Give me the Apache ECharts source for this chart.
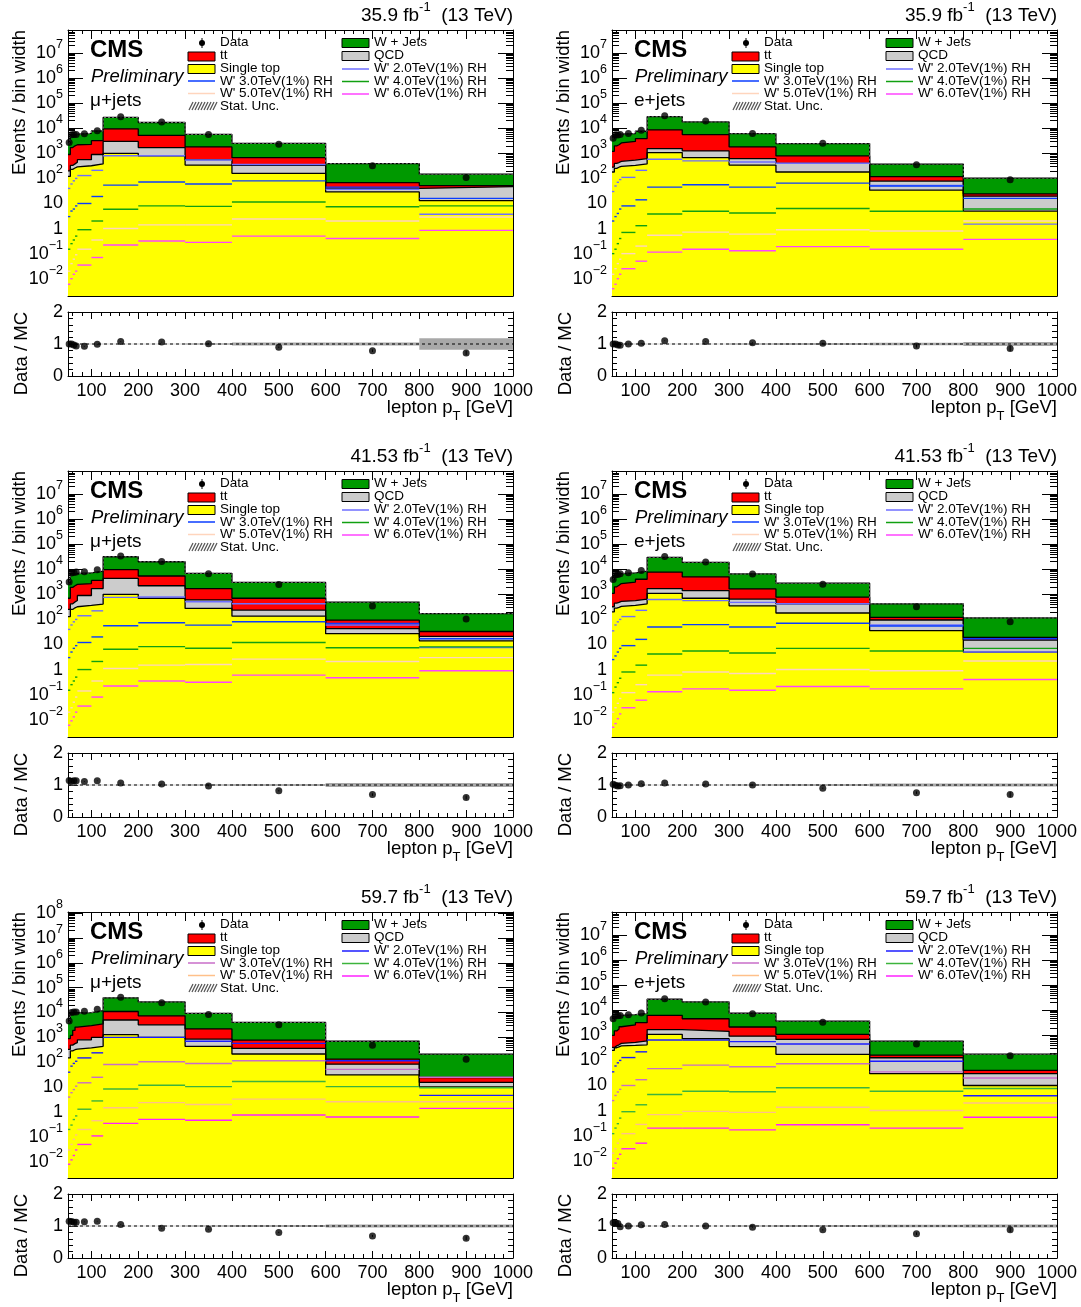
<!DOCTYPE html>
<html><head><meta charset="utf-8">
<script src="https://cdn.jsdelivr.net/npm/echarts@6/dist/echarts.min.js"></script>
<style>html,body{margin:0;padding:0;background:#fff}#c{width:1081px;height:1307px}</style>
</head><body><div id="c"></div>
<script>
// ---------------- DATA ----------------
const BIN_EDGES = [50, 55, 60, 65, 70, 100, 125, 200, 300, 400, 600, 800, 1000];
const BIN_CENTERS = [52.5, 57.5, 62.5, 67.5, 85, 112.5, 162.5, 250, 350, 500, 700, 900];
const X_TICK_LABELS = [100, 200, 300, 400, 500, 600, 700, 800, 900, 1000];
const RATIO_TICKS = [0, 1, 2];

// 2016 mu+jets
const mu16_stop  = [120, 230, 260, 290, 320, 380, 1000, 800, 340, 160, 29, 13];
const mu16_qcd   = [80, 100, 120, 150, 240, 520, 2000, 900, 220, 170, 11, 34];
const mu16_tt    = [700, 1370, 1620, 1760, 1740, 2300, 6500, 3500, 1240, 340, 28, 5];
const mu16_wjets = [1600, 3500, 3500, 3600, 4000, 4600, 17500, 11800, 3900, 1830, 322, 96];
const mu16_data  = [2700, 5500, 5700, 5600, 6000, 7900, 29000, 18000, 5700, 2300, 320, 110];
const mu16_w2 = [40, 60, 80, 100, 130, 210, 800, 800, 540, 360, 37, 3.7];
const mu16_w3 = [3, 5, 6, 8, 10, 19, 54, 72, 60, 80, 45, 16];
const mu16_w4 = [0.15, 0.25, 0.35, 0.5, 0.9, 2.0, 5.9, 8, 7.7, 11.5, 7.4, 8];
const mu16_w5 = [0.02, 0.04, 0.06, 0.09, 0.15, 0.35, 1.0, 1.4, 1.4, 2.4, 2.0, 2.9];
const mu16_w6 = [0.006, 0.01, 0.015, 0.02, 0.035, 0.07, 0.22, 0.32, 0.28, 0.5, 0.4, 0.85];
const mu16_ratio = [1.0, 1.0, 0.97, 0.94, 0.93, 0.99, 1.08, 1.06, 1.01, 0.9, 0.79, 0.72];
const mu16_rerr  = [0.01, 0.01, 0.01, 0.01, 0.01, 0.01, 0.01, 0.01, 0.01, 0.02, 0.04, 0.07];
const mu16_band  = [0.01, 0.01, 0.01, 0.01, 0.01, 0.01, 0.01, 0.01, 0.02, 0.05, 0.05, 0.18];

// 2016 e+jets
const e16_stop  = [180, 250, 280, 300, 330, 380, 1070, 680, 340, 180, 34, 5];
const e16_qcd   = [100, 150, 150, 180, 210, 240, 480, 570, 280, 220, 44, 14.5];
const e16_tt    = [920, 1600, 1770, 2120, 2460, 3280, 7150, 4350, 1180, 390, 39, 4.5];
const e16_wjets = [2800, 3500, 3400, 3200, 3200, 3700, 20300, 12400, 4300, 1660, 258, 79];
const e16_data  = [4000, 5500, 5400, 5600, 6200, 8300, 31600, 19500, 6200, 2500, 350, 89];
const e16_w2 = [30, 50, 70, 90, 110, 210, 580, 500, 450, 400, 52, 1.5];
const e16_w3 = [2, 3, 4, 6, 8, 14, 45, 56, 45, 65, 50, 16];
const e16_w4 = [0.1, 0.15, 0.25, 0.4, 0.7, 1.3, 3.8, 4.9, 4.2, 6.3, 4.9, 6];
const e16_w5 = [0.015, 0.025, 0.04, 0.06, 0.1, 0.2, 0.54, 0.72, 0.6, 0.9, 0.8, 2];
const e16_w6 = [0.004, 0.006, 0.01, 0.015, 0.025, 0.05, 0.115, 0.15, 0.13, 0.19, 0.15, 0.37];
const e16_ratio = [1.0, 1.0, 0.97, 0.96, 1.0, 1.02, 1.1, 1.08, 1.04, 1.02, 0.94, 0.86];
const e16_rerr  = [0.01, 0.01, 0.01, 0.01, 0.01, 0.01, 0.01, 0.01, 0.01, 0.02, 0.05, 0.08];
const e16_band  = [0.01, 0.01, 0.01, 0.01, 0.01, 0.01, 0.01, 0.01, 0.02, 0.03, 0.04, 0.06];

// 2017 mu+jets
const mu17_stop  = [130, 250, 290, 320, 360, 410, 1000, 700, 275, 135, 27, 14];
const mu17_qcd   = [120, 170, 210, 250, 540, 1290, 3300, 1500, 325, 100, 16, 7];
const mu17_tt    = [450, 1480, 1700, 1930, 1800, 1900, 5400, 3200, 1100, 465, 50, 12];
const mu17_wjets = [2100, 4500, 4400, 4300, 4500, 4900, 21900, 14600, 5200, 2300, 397, 137];
const mu17_data  = [3100, 7100, 7400, 7700, 8000, 9600, 33500, 20600, 6700, 2450, 345, 104];
const mu17_w2 = [40, 60, 80, 100, 140, 220, 760, 780, 510, 420, 60, 7.6];
const mu17_w3 = [3, 5, 7, 9, 12, 20, 56, 74, 59, 81, 69, 17];
const mu17_w4 = [0.15, 0.25, 0.35, 0.5, 1.0, 2.1, 6.5, 8.2, 7.1, 12, 7.4, 8];
const mu17_w5 = [0.02, 0.03, 0.05, 0.08, 0.14, 0.35, 1.1, 1.5, 1.6, 2.6, 2.1, 3];
const mu17_w6 = [0.006, 0.009, 0.013, 0.02, 0.035, 0.08, 0.22, 0.35, 0.31, 0.6, 0.47, 0.9];
const mu17_ratio = [1.14, 1.11, 1.13, 1.13, 1.11, 1.13, 1.06, 1.03, 0.97, 0.82, 0.7, 0.61];
const mu17_rerr  = [0.01, 0.01, 0.01, 0.01, 0.01, 0.01, 0.01, 0.01, 0.01, 0.02, 0.04, 0.06];
const mu17_band  = [0.01, 0.01, 0.01, 0.01, 0.01, 0.01, 0.01, 0.01, 0.02, 0.03, 0.06, 0.06];

// 2017 e+jets
const e17_stop  = [200, 280, 300, 330, 360, 420, 1100, 700, 350, 180, 36, 5];
const e17_qcd   = [120, 170, 180, 190, 200, 230, 600, 700, 300, 240, 59, 10];
const e17_tt    = [780, 1550, 1820, 2180, 2540, 3350, 6000, 3600, 1000, 350, 25, 4];
const e17_wjets = [2700, 4200, 4100, 4000, 4100, 4500, 22300, 14000, 4850, 2030, 300, 96];
const e17_data  = [3900, 6100, 6200, 6600, 7200, 8900, 32000, 19500, 6500, 2500, 320, 80];
const e17_w2 = [35, 60, 80, 100, 130, 230, 620, 560, 480, 420, 60, 5];
const e17_w3 = [2.5, 3.5, 5, 7, 9, 16, 50, 62, 50, 70, 55, 17];
const e17_w4 = [0.12, 0.2, 0.3, 0.45, 0.8, 1.5, 4.2, 5.5, 4.6, 7, 5.5, 7];
const e17_w5 = [0.02, 0.03, 0.045, 0.07, 0.12, 0.25, 0.6, 0.8, 0.7, 1.0, 0.9, 2.2];
const e17_w6 = [0.005, 0.007, 0.011, 0.017, 0.03, 0.06, 0.13, 0.17, 0.15, 0.21, 0.17, 0.4];
const e17_ratio = [1.02, 0.99, 0.97, 0.98, 1.0, 1.04, 1.06, 1.03, 1.0, 0.9, 0.76, 0.7];
const e17_rerr  = [0.01, 0.01, 0.01, 0.01, 0.01, 0.01, 0.01, 0.01, 0.01, 0.02, 0.04, 0.08];
const e17_band  = [0.01, 0.01, 0.01, 0.01, 0.01, 0.01, 0.01, 0.01, 0.02, 0.03, 0.05, 0.05];

// 2018 mu+jets
const mu18_stop  = [150, 290, 320, 340, 380, 440, 1300, 1000, 440, 215, 31, 10.3];
const mu18_qcd   = [180, 200, 240, 280, 420, 560, 3700, 2200, 420, 145, 53, 5.2];
const mu18_tt    = [570, 710, 1340, 1980, 2200, 2500, 6000, 4200, 1340, 420, 51, 9];
const mu18_wjets = [3100, 7600, 7300, 6900, 7000, 8500, 28000, 19200, 7100, 3220, 565, 190];
const mu18_data  = [4600, 10000, 10400, 10600, 11300, 13700, 41000, 24700, 8400, 3200, 480, 133];
const mu18_w2 = [40, 70, 90, 110, 150, 240, 1000, 1000, 700, 575, 115, 4.7];
const mu18_w3 = [4, 6, 8, 11, 15, 25, 81, 105, 89, 115, 52, 25];
const mu18_w4 = [0.2, 0.3, 0.5, 0.7, 1.3, 2.8, 8.5, 12, 10.5, 17, 10.5, 9.5];
const mu18_w5 = [0.03, 0.05, 0.08, 0.12, 0.2, 0.45, 1.5, 2.4, 2.0, 3.3, 2.6, 2.6];
const mu18_w6 = [0.008, 0.012, 0.018, 0.03, 0.05, 0.11, 0.35, 0.51, 0.47, 0.76, 0.63, 1.4];
const mu18_ratio = [1.15, 1.14, 1.12, 1.12, 1.13, 1.15, 1.05, 0.93, 0.9, 0.8, 0.69, 0.62];
const mu18_rerr  = [0.01, 0.01, 0.01, 0.01, 0.01, 0.01, 0.01, 0.01, 0.01, 0.02, 0.03, 0.06];
const mu18_band  = [0.01, 0.01, 0.01, 0.01, 0.01, 0.01, 0.01, 0.01, 0.02, 0.03, 0.05, 0.05];

// 2018 e+jets
const e18_stop  = [250, 320, 350, 380, 400, 420, 1100, 740, 355, 175, 30, 10];
const e18_qcd   = [80, 60, 70, 100, 120, 180, 600, 710, 575, 515, 98, 19.5];
const e18_tt    = [670, 1120, 1380, 1720, 2080, 2600, 4600, 3150, 1220, 410, 34, 10.5];
const e18_wjets = [3200, 4100, 4000, 4100, 4100, 4300, 21200, 16900, 5450, 2600, 428, 138];
const e18_data  = [4600, 6200, 6100, 6200, 6700, 7800, 29000, 21500, 7300, 3300, 450, 155];
const e18_w2 = [35, 60, 80, 100, 130, 220, 650, 650, 560, 450, 93, 3.9];
const e18_w3 = [2.5, 4, 5.5, 7, 10, 17, 47, 65, 56, 74, 35, 20];
const e18_w4 = [0.12, 0.2, 0.3, 0.5, 0.9, 1.7, 4.4, 5.9, 5.6, 8.1, 5.9, 7.6];
const e18_w5 = [0.02, 0.03, 0.05, 0.07, 0.12, 0.28, 0.69, 0.93, 0.85, 1.35, 1.0, 2.0];
const e18_w6 = [0.005, 0.008, 0.012, 0.018, 0.03, 0.05, 0.2, 0.2, 0.17, 0.27, 0.2, 0.54];
const e18_ratio = [1.1, 1.1, 1.08, 0.98, 1.0, 1.04, 1.05, 1.0, 0.96, 0.88, 0.76, 0.88];
const e18_rerr  = [0.01, 0.01, 0.01, 0.01, 0.01, 0.01, 0.01, 0.01, 0.01, 0.02, 0.04, 0.07];
const e18_band  = [0.01, 0.01, 0.01, 0.01, 0.01, 0.01, 0.01, 0.01, 0.02, 0.03, 0.04, 0.05];

const LEGEND_SIGNALS = ["W' 2.0TeV(1%) RH", "W' 3.0TeV(1%) RH", "W' 4.0TeV(1%) RH", "W' 5.0TeV(1%) RH", "W' 6.0TeV(1%) RH"];

const PANELS = [
  {lumi: '35.9', chan: '\u03bc+jets', stop: mu16_stop, qcd: mu16_qcd, tt: mu16_tt, wjets: mu16_wjets, data: mu16_data, sig: [mu16_w2, mu16_w3, mu16_w4, mu16_w5, mu16_w6], ratio: mu16_ratio, rerr: mu16_rerr, band: mu16_band, yexp: [-2.69, 7.92], scheme: 0},
  {lumi: '35.9', chan: 'e+jets', stop: e16_stop, qcd: e16_qcd, tt: e16_tt, wjets: e16_wjets, data: e16_data, sig: [e16_w2, e16_w3, e16_w4, e16_w5, e16_w6], ratio: e16_ratio, rerr: e16_rerr, band: e16_band, yexp: [-2.69, 7.92], scheme: 0},
  {lumi: '41.53', chan: '\u03bc+jets', stop: mu17_stop, qcd: mu17_qcd, tt: mu17_tt, wjets: mu17_wjets, data: mu17_data, sig: [mu17_w2, mu17_w3, mu17_w4, mu17_w5, mu17_w6], ratio: mu17_ratio, rerr: mu17_rerr, band: mu17_band, yexp: [-2.69, 7.92], scheme: 0},
  {lumi: '41.53', chan: 'e+jets', stop: e17_stop, qcd: e17_qcd, tt: e17_tt, wjets: e17_wjets, data: e17_data, sig: [e17_w2, e17_w3, e17_w4, e17_w5, e17_w6], ratio: e17_ratio, rerr: e17_rerr, band: e17_band, yexp: [-2.69, 7.92], scheme: 0},
  {lumi: '59.7', chan: '\u03bc+jets', stop: mu18_stop, qcd: mu18_qcd, tt: mu18_tt, wjets: mu18_wjets, data: mu18_data, sig: [mu18_w2, mu18_w3, mu18_w4, mu18_w5, mu18_w6], ratio: mu18_ratio, rerr: mu18_rerr, band: mu18_band, yexp: [-2.65, 8.04], scheme: 1},
  {lumi: '59.7', chan: 'e+jets', stop: e18_stop, qcd: e18_qcd, tt: e18_tt, wjets: e18_wjets, data: e18_data, sig: [e18_w2, e18_w3, e18_w4, e18_w5, e18_w6], ratio: e18_ratio, rerr: e18_rerr, band: e18_band, yexp: [-2.69, 7.92], scheme: 1}
];

// ---------------- STYLE / LAYOUT ----------------
const FONT = '"Liberation Sans", Arial, Helvetica, sans-serif';
const COL_LEFT = [68, 612];
const PW = 445;
const MAIN_TOP = [30, 471, 912], MAIN_H = 266;
const RAT_TOP = [312, 753, 1194], RAT_H = 64;
const C_STOP = '#ffff00', C_QCD = '#cccccc', C_TT = '#ff0000', C_WJ = '#009900';
const SIG_COLORS = [
  ['#6e6eff', '#0a3cff', '#11a011', '#ffd5bd', '#ff44ff'],
  ['#1c1cff', '#c86ec8', '#3cb43c', '#ffc08a', '#ff22ff']
];

const X_MINOR = [];
for (let v = 60; v < 1000; v += 20) if (v % 100 !== 0) X_MINOR.push(v);
const RATIO_MINOR = [0.2, 0.4, 0.6, 0.8, 1.2, 1.4, 1.6, 1.8];
function logMinor(lo, hi) {
  const out = [];
  for (let e = Math.floor(lo); e <= Math.ceil(hi); e++) for (let k = 2; k <= 9; k++) {
    const v = k * Math.pow(10, e);
    if (Math.log10(v) > lo && Math.log10(v) < hi) out.push(v);
  }
  return out;
}
function logMajor(lo, hi) {
  const out = [];
  for (let e = Math.ceil(lo); e <= Math.floor(hi); e++) out.push(Math.pow(10, e));
  return out;
}
function supLabel(v) {
  const e = Math.round(Math.log10(v));
  if (e === 0) return '{b|1}';
  if (e === 1) return '{b|10}';
  return '{b|10}{s|' + (e < 0 ? '\u2212' + (-e) : e) + '}';
}
const LABEL_RICH = {
  b: {fontSize: 18, lineHeight: 30, fontFamily: FONT, color: '#000'},
  s: {fontSize: 12.5, lineHeight: 15, verticalAlign: 'top', fontFamily: FONT, color: '#000'}
};

const grids = [], xAxes = [], yAxes = [], series = [], graphics = [];

function addGrid(left, top, height) {
  grids.push({left: left, top: top, width: PW, height: height, containLabel: false, outerBoundsMode: 'none'});
  return grids.length - 1;
}
function xAxis(gi, pos, ticks, len, showLine, labels) {
  const ax = {type: 'value', gridIndex: gi, position: pos, min: 50, max: 1000,
    axisLine: {show: showLine, onZero: false, lineStyle: {color: '#000', width: 1}},
    splitLine: {show: false},
    axisTick: {show: true, inside: true, length: len, lineStyle: {color: '#000', width: 1}, customValues: ticks},
    axisLabel: {show: false}};
  if (labels) {
    ax.axisLabel = {show: true, customValues: labels, fontSize: 18, fontFamily: FONT, color: '#000', margin: 6,
      formatter: v => String(v)};
  }
  xAxes.push(ax);
  return xAxes.length - 1;
}
function yAxis(gi, pos, type, min, max, ticks, len, showLine, labels, rich) {
  const ax = {type: type, gridIndex: gi, position: pos, min: min, max: max,
    axisLine: {show: showLine, onZero: false, lineStyle: {color: '#000', width: 1}},
    splitLine: {show: false},
    axisTick: {show: true, inside: true, length: len, lineStyle: {color: '#000', width: 1}, customValues: ticks},
    axisLabel: {show: false}};
  if (type === 'log') ax.logBase = 10;
  if (labels) {
    ax.axisLabel = {show: true, customValues: labels, fontSize: 18, fontFamily: FONT, color: '#000', margin: 5,
      formatter: v => String(v)};
    if (rich) { ax.axisLabel.formatter = supLabel; ax.axisLabel.rich = LABEL_RICH; }
  }
  yAxes.push(ax);
  return yAxes.length - 1;
}

function stepData(vals) {
  const d = vals.map((v, i) => [BIN_EDGES[i], v]);
  d.push([BIN_EDGES[BIN_EDGES.length - 1], vals[vals.length - 1]]);
  return d;
}
function binRows(vals) {
  return vals.map((v, i) => [BIN_EDGES[i], BIN_EDGES[i + 1], v]);
}
function addArrays(a, b) { return a.map((v, i) => v + b[i]); }

PANELS.forEach((p, idx) => {
  const col = idx % 2, row = Math.floor(idx / 2);
  const L = COL_LEFT[col], T = MAIN_TOP[row], RT = RAT_TOP[row];
  const ymin = Math.pow(10, p.yexp[0]), ymax = Math.pow(10, p.yexp[1]);
  const majors = logMajor(p.yexp[0], p.yexp[1]);
  const minors = logMinor(p.yexp[0], p.yexp[1]);
  const cols = SIG_COLORS[p.scheme];

  // main grid + minor-tick overlay
  const gm = addGrid(L, T, MAIN_H);
  const gmm = addGrid(L, T, MAIN_H);
  const xb = xAxis(gm, 'bottom', X_TICK_LABELS, 9, true, null);
  xAxis(gm, 'top', X_TICK_LABELS, 9, true, null);
  const yl = yAxis(gm, 'left', 'log', ymin, ymax, majors, 15, true, majors, true);
  yAxis(gm, 'right', 'log', ymin, ymax, majors, 15, true, null);
  xAxis(gmm, 'bottom', X_MINOR, 4, false, null);
  xAxis(gmm, 'top', X_MINOR, 4, false, null);
  yAxis(gmm, 'left', 'log', ymin, ymax, minors, 7, false, null);
  yAxis(gmm, 'right', 'log', ymin, ymax, minors, 7, false, null);

  // ratio grid + minor-tick overlay
  const gr = addGrid(L, RT, RAT_H);
  const grm = addGrid(L, RT, RAT_H);
  const rxb = xAxis(gr, 'bottom', X_TICK_LABELS, 7, true, X_TICK_LABELS);
  xAxis(gr, 'top', X_TICK_LABELS, 7, true, null);
  const ryl = yAxis(gr, 'left', 'value', 0, 2, RATIO_TICKS, 10, true, RATIO_TICKS, false);
  yAxis(gr, 'right', 'value', 0, 2, RATIO_TICKS, 10, true, null);
  xAxis(grm, 'bottom', X_MINOR, 4, false, null);
  xAxis(grm, 'top', X_MINOR, 4, false, null);
  yAxis(grm, 'left', 'value', 0, 2, RATIO_MINOR, 5, false, null);
  yAxis(grm, 'right', 'value', 0, 2, RATIO_MINOR, 5, false, null);

  // stacked histograms (THStack style: each layer filled from the bottom up to its cumulative sum)
  const cStop = p.stop;
  const cQcd = addArrays(cStop, p.qcd);
  const cTt = addArrays(cQcd, p.tt);
  const cWj = addArrays(cTt, p.wjets);
  const layers = [['W + Jets', cWj, C_WJ], ['tt', cTt, C_TT], ['QCD', cQcd, C_QCD], ['Single top', cStop, C_STOP]];
  layers.forEach(([name, vals, color]) => {
    series.push({type: 'line', name: name, xAxisIndex: xb, yAxisIndex: yl, step: 'end',
      data: stepData(vals), symbol: 'none', silent: true, clip: true,
      lineStyle: {color: '#000', width: 1.3},
      areaStyle: {color: color, opacity: 1, origin: 'start'}, z: 2});
  });
  // stat. unc. outline on top of the total
  series.push({type: 'line', xAxisIndex: xb, yAxisIndex: yl, step: 'end', data: stepData(cWj), symbol: 'none', silent: true,
    lineStyle: {color: '#777', width: 1, type: [2, 2]}, z: 2});

  // signals
  p.sig.forEach((vals, k) => {
    series.push({type: 'custom', name: LEGEND_SIGNALS[k], xAxisIndex: xb, yAxisIndex: yl, clip: true, z: 3,
      data: binRows(vals), encode: {x: [0, 1], y: 2},
      renderItem: (params, api) => {
        const a = api.coord([api.value(0), api.value(2)]);
        const b = api.coord([api.value(1), api.value(2)]);
        return {type: 'line', shape: {x1: a[0], y1: a[1], x2: b[0], y2: b[1]}, style: {stroke: cols[k], lineWidth: 1.4}};
      }});
  });

  // data points
  series.push({type: 'scatter', name: 'Data', xAxisIndex: xb, yAxisIndex: yl, z: 5,
    data: p.data.map((v, i) => [BIN_CENTERS[i], v]), symbol: 'circle', symbolSize: 7,
    itemStyle: {color: '#000'}});

  // ratio: band, unity line, error bars, points
  series.push({type: 'custom', xAxisIndex: rxb, yAxisIndex: ryl, clip: true, z: 2,
    data: p.band.map((h, i) => [BIN_EDGES[i], BIN_EDGES[i + 1], h]),
    renderItem: (params, api) => {
      const a = api.coord([api.value(0), 1 + api.value(2)]);
      const b = api.coord([api.value(1), 1 - api.value(2)]);
      return {type: 'rect', shape: {x: a[0], y: a[1], width: b[0] - a[0], height: b[1] - a[1]}, style: {fill: '#a8a8a8'}};
    }});
  series.push({type: 'line', xAxisIndex: rxb, yAxisIndex: ryl, z: 3, data: [[50, 1], [1000, 1]], symbol: 'none', silent: true,
    lineStyle: {color: '#000', width: 1, type: [3, 3]}});
  series.push({type: 'custom', xAxisIndex: rxb, yAxisIndex: ryl, clip: true, z: 4,
    data: p.ratio.map((v, i) => [BIN_CENTERS[i], v, p.rerr[i]]),
    renderItem: (params, api) => {
      const a = api.coord([api.value(0), api.value(1) + api.value(2)]);
      const b = api.coord([api.value(0), api.value(1) - api.value(2)]);
      return {type: 'line', shape: {x1: a[0], y1: a[1], x2: b[0], y2: b[1]}, style: {stroke: '#000', lineWidth: 1}};
    }});
  series.push({type: 'scatter', xAxisIndex: rxb, yAxisIndex: ryl, z: 5,
    data: p.ratio.map((v, i) => [BIN_CENTERS[i], v]), symbol: 'circle', symbolSize: 7, itemStyle: {color: '#000'}});

  // ---------- texts ----------
  graphics.push({type: 'text', x: L + PW, y: T - 14, style: {
    text: '{n|' + p.lumi + ' fb}{s|-1}{n|  (13 TeV)}', align: 'right', verticalAlign: 'middle', textAlign: 'right', textVerticalAlign: 'middle',
    rich: {n: {fontSize: 19, lineHeight: 30, fontFamily: FONT, fill: '#000'}, s: {fontSize: 13, lineHeight: 15, verticalAlign: 'top', fontFamily: FONT, fill: '#000'}}}});
  graphics.push({type: 'text', x: L + 22, y: T + 20, style: {text: 'CMS', font: 'bold 24px ' + FONT, fill: '#000', verticalAlign: 'middle', textVerticalAlign: 'middle'}});
  graphics.push({type: 'text', x: L + 23, y: T + 47, style: {text: 'Preliminary', font: 'italic 18.5px ' + FONT, fill: '#000', verticalAlign: 'middle', textVerticalAlign: 'middle'}});
  graphics.push({type: 'text', x: L + 22, y: T + 71, style: {text: p.chan, font: '19px ' + FONT, fill: '#000', verticalAlign: 'middle', textVerticalAlign: 'middle'}});

  // y titles
  graphics.push({type: 'text', x: L - 48, y: T, rotation: Math.PI / 2, style: {text: 'Events / bin width', font: '18.5px ' + FONT, fill: '#000', align: 'right', verticalAlign: 'middle', textAlign: 'right', textVerticalAlign: 'middle'}});
  graphics.push({type: 'text', x: L - 46, y: RT, rotation: Math.PI / 2, style: {text: 'Data / MC', font: '18.5px ' + FONT, fill: '#000', align: 'right', verticalAlign: 'middle', textAlign: 'right', textVerticalAlign: 'middle'}});
  // x title
  graphics.push({type: 'text', x: L + PW, y: RT + 96, style: {
    text: '{n|lepton p}{t|T}{n| [GeV]}', align: 'right', verticalAlign: 'middle', textAlign: 'right', textVerticalAlign: 'middle',
    rich: {n: {fontSize: 18.5, lineHeight: 30, fontFamily: FONT, fill: '#000'}, t: {fontSize: 13, lineHeight: 15, verticalAlign: 'bottom', fontFamily: FONT, fill: '#000'}}}});

  // ---------- legend ----------
  const tx = L + 152, tx2 = L + 306, bx = L + 120, bx2 = L + 274, bw = 27;
  const lt = (x, y, s) => ({type: 'text', x: x, y: y, style: {text: s, font: '13.5px ' + FONT, fill: '#000', verticalAlign: 'middle', textVerticalAlign: 'middle'}});
  const lbox = (x, y, c) => ({type: 'rect', shape: {x: x, y: y, width: bw, height: 9}, style: {fill: c, stroke: '#000', lineWidth: 1}});
  const lline = (x, y, c) => ({type: 'line', shape: {x1: x, y1: y, x2: x + bw, y2: y}, style: {stroke: c, lineWidth: 1.5}});
  graphics.push({type: 'circle', shape: {cx: L + 134, cy: T + 13, r: 3}, style: {fill: '#000'}});
  graphics.push({type: 'line', shape: {x1: L + 134, y1: T + 8, x2: L + 134, y2: T + 18}, style: {stroke: '#000', lineWidth: 1}});
  graphics.push(lt(tx, T + 12.5, 'Data'));
  graphics.push(lbox(bx, T + 22, C_TT)); graphics.push(lt(tx, T + 25.5, 'tt'));
  graphics.push(lbox(bx, T + 34.5, C_STOP)); graphics.push(lt(tx, T + 38.5, 'Single top'));
  graphics.push(lline(bx, T + 51, cols[1])); graphics.push(lt(tx, T + 51, LEGEND_SIGNALS[1]));
  graphics.push(lline(bx, T + 63.5, cols[3])); graphics.push(lt(tx, T + 63.5, LEGEND_SIGNALS[3]));
  for (let h = 0; h < 9; h++) {
    graphics.push({type: 'line', shape: {x1: bx + 1 + h * 3, y1: T + 80, x2: bx + 5 + h * 3, y2: T + 72}, style: {stroke: '#555', lineWidth: 1.2}});
  }
  graphics.push(lt(tx, T + 76, 'Stat. Unc.'));
  graphics.push(lbox(bx2, T + 8.5, C_WJ)); graphics.push(lt(tx2, T + 12.5, 'W + Jets'));
  graphics.push(lbox(bx2, T + 21.5, C_QCD)); graphics.push(lt(tx2, T + 25.5, 'QCD'));
  graphics.push(lline(bx2, T + 39, cols[0])); graphics.push(lt(tx2, T + 38.5, LEGEND_SIGNALS[0]));
  graphics.push(lline(bx2, T + 51.5, cols[2])); graphics.push(lt(tx2, T + 51, LEGEND_SIGNALS[2]));
  graphics.push(lline(bx2, T + 64, cols[4])); graphics.push(lt(tx2, T + 63.5, LEGEND_SIGNALS[4]));
});

const chart = echarts.init(document.getElementById('c'), null, {renderer: 'canvas', width: 1081, height: 1307});
chart.setOption({
  animation: false,
  backgroundColor: '#ffffff',
  grid: grids, xAxis: xAxes, yAxis: yAxes, series: series,
  graphic: {elements: graphics}
});
</script></body></html>
